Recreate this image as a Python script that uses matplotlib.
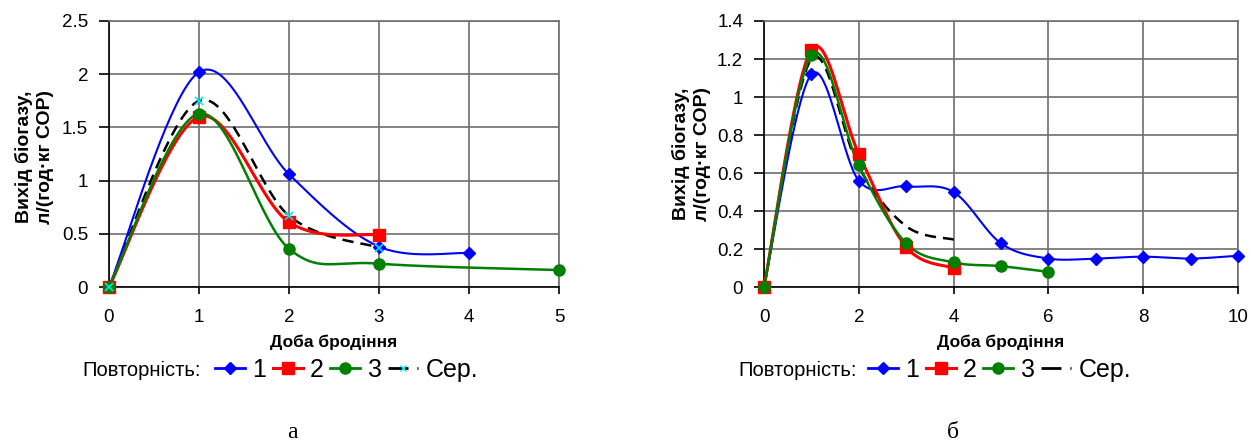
import numpy as np
import matplotlib
matplotlib.use("Agg")
import matplotlib.pyplot as plt
from matplotlib.lines import Line2D

plt.rcParams['font.family'] = ['Liberation Sans', 'DejaVu Sans']

# ---- дані, графік а ----
a_x1 = [0, 1, 2, 3, 4]
a_y1 = [0, 2.02, 1.06, 0.38, 0.32]
a_x2 = [0, 1, 2, 3]
a_y2 = [0, 1.60, 0.61, 0.49]
a_x3 = [0, 1, 2, 3, 5]
a_y3 = [0, 1.63, 0.36, 0.22, 0.16]
a_xs = [0, 1, 2, 3]
a_ys = [0, 1.75, 0.67, 0.37]

# ---- дані, графік б ----
b_x1 = [0, 1, 2, 3, 4, 5, 6, 7, 8, 9, 10]
b_y1 = [0, 1.12, 0.56, 0.53, 0.50, 0.23, 0.15, 0.15, 0.16, 0.15, 0.165]
b_x2 = [0, 1, 2, 3, 4]
b_y2 = [0, 1.25, 0.70, 0.21, 0.10]
b_x3 = [0, 1, 2, 3, 4, 5, 6]
b_y3 = [0, 1.22, 0.64, 0.23, 0.13, 0.11, 0.08]
b_xs = [0, 1, 2, 3, 4]
b_ys = [0, 1.20, 0.63, 0.32, 0.25]

legend_title = 'Повторність:'
labels = ['1', '2', '3', 'Сер.']

DASH = (0, (4.5, 2.8))


def smooth(x, y, n=40):
    # згладжування як в Excel (Catmull-Rom через кубічні криві Безьє)
    x = np.asarray(x, float)
    y = np.asarray(y, float)
    P = np.column_stack([x, y])
    out = []
    t = np.linspace(0, 1, n)[:, None]
    for i in range(len(P) - 1):
        p0 = P[i - 1] if i > 0 else P[i]
        p1 = P[i]
        p2 = P[i + 1]
        p3 = P[i + 2] if i + 2 < len(P) else P[i + 1]
        c1 = p1 + (p2 - p0) / 6
        c2 = p2 - (p3 - p1) / 6
        seg = ((1 - t) ** 3) * p1 + 3 * ((1 - t) ** 2) * t * c1 + 3 * (1 - t) * t ** 2 * c2 + t ** 3 * p2
        out.append(seg)
    s = np.vstack(out)
    return s[:, 0], s[:, 1]


def draw(ax, data, xmax, xstep, ymax, ystep, avg_marker):
    (x1, y1), (x2, y2), (x3, y3), (xs, ys) = data
    sx, sy = smooth(xs, ys)
    ax.plot(sx, sy, color='black', lw=1.8, ls=DASH, zorder=3, clip_on=False)
    if avg_marker:
        ax.plot(xs, ys, ls='none', marker='x', color='#00e5ee', ms=6, mew=1.2, zorder=6, clip_on=False)
    sx, sy = smooth(x1, y1)
    ax.plot(sx, sy, color='#0000ff', lw=1.5, zorder=4, clip_on=False)
    ax.plot(x1, y1, ls='none', marker='D', color='#0000ff', ms=6, zorder=5, clip_on=False)
    sx, sy = smooth(x2, y2)
    ax.plot(sx, sy, color='#ff0000', lw=2.2, zorder=4, clip_on=False)
    ax.plot(x2, y2, ls='none', marker='s', color='#ff0000', ms=8, zorder=5, clip_on=False)
    sx, sy = smooth(x3, y3)
    ax.plot(sx, sy, color='#008000', lw=1.8, zorder=4, clip_on=False)
    ax.plot(x3, y3, ls='none', marker='o', color='#008000', ms=8, zorder=5, clip_on=False)

    ax.set_xlim(0, xmax)
    ax.set_ylim(0, ymax)
    ax.set_xticks(np.arange(0, xmax + 0.01, xstep))
    ax.set_yticks(np.arange(0, ymax + 0.001, ystep))
    ax.set_yticklabels(['%g' % v for v in np.arange(0, ymax + 0.001, ystep)])
    ax.grid(True, color='#6e6e6e', lw=1.2)
    ax.set_axisbelow(True)
    for s in ['top', 'right']:
        ax.spines[s].set_color('#6e6e6e')
        ax.spines[s].set_linewidth(1.2)
    for s in ['left', 'bottom']:
        ax.spines[s].set_color('black')
        ax.spines[s].set_linewidth(1.2)
    ax.tick_params(axis='both', labelsize=13.5, width=1.2)
    ax.tick_params(axis='x', pad=11, length=5)
    ax.tick_params(axis='y', pad=8, length=7)
    ax.set_xlabel('Доба бродіння', fontsize=12.5, fontweight='bold', labelpad=6)
    ax.set_ylabel('Вихід біогазу,\nл/(год·кг СОР)', fontsize=14, fontweight='bold', linespacing=1.3)


fig = plt.figure(figsize=(12.51, 4.43), dpi=100)
ax1 = fig.add_axes([109 / 1251, 0.352, 450 / 1251, 0.6006])
ax2 = fig.add_axes([764 / 1251, 0.352, 474 / 1251, 0.6006])

draw(ax1, [(a_x1, a_y1), (a_x2, a_y2), (a_x3, a_y3), (a_xs, a_ys)], 5, 1, 2.5, 0.5, True)
draw(ax2, [(b_x1, b_y1), (b_x2, b_y2), (b_x3, b_y3), (b_xs, b_ys)], 10, 2, 1.4, 0.2, False)
ax1.yaxis.set_label_coords((54 - 109) / 450, 0.49)
ax2.yaxis.set_label_coords((711 - 764) / 474, 0.50)


def legend(title_x, handle_x, avg_marker):
    h = [Line2D([], [], color='#0000ff', lw=2, marker='D', ms=6),
         Line2D([], [], color='#ff0000', lw=2.2, marker='s', ms=8),
         Line2D([], [], color='#008000', lw=2, marker='o', ms=8)]
    sep = (0, (7.2, 3.2, 1.1, 10))
    if avg_marker:
        h.append(Line2D([], [], color='black', lw=2, ls=sep, marker='x', mec='#00e5ee', ms=5, markevery=[1]))
    else:
        h.append(Line2D([], [], color='black', lw=2, ls=sep))
    y = 1 - 370 / 443
    fig.text(title_x / 1251, y, legend_title, fontsize=14.5, va='center', ha='left')
    fig.legend(h, labels, loc='center left', bbox_to_anchor=(handle_x / 1251, y),
               ncol=4, frameon=False, fontsize=18, handlelength=1.2, handletextpad=0.3,
               columnspacing=0.25, borderaxespad=0, borderpad=0)


legend(82, 215, True)
legend(738, 868, False)

fig.text(292 / 1251, 1 - 432 / 443, 'а', fontsize=17, family='Liberation Serif', ha='center', va='center')
fig.text(953 / 1251, 1 - 432 / 443, 'б', fontsize=17, family='Liberation Serif', ha='center', va='center')

fig.savefig('out.png', dpi=100)
